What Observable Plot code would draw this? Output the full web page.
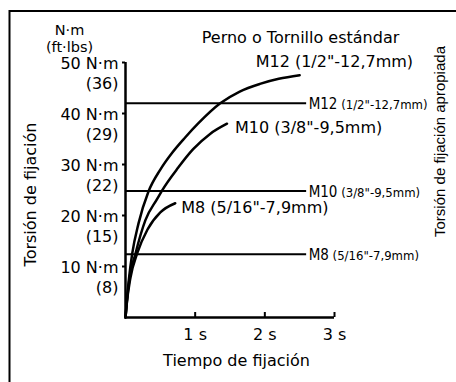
<!DOCTYPE html>
<html><head><meta charset="utf-8">
<script src="https://cdn.jsdelivr.net/npm/d3@7"></script>
<script src="https://cdn.jsdelivr.net/npm/@observablehq/plot@0.6"></script>
<style>
html,body{margin:0;padding:0;background:#fff;overflow:hidden}
</style></head><body><div id="chart"></div>
<script>
// Series (bolt sizes)
const seriesNames = ["M12", "M10", "M8"];
const seriesSizes = ['(1/2"-12,7mm)', '(3/8"-9,5mm)', '(5/16"-7,9mm)'];

// Tightening curves: time (s) and torque (N·m)
const m12Time   = [0, 0.02, 0.047, 0.096, 0.186, 0.33, 0.5, 0.67, 0.85, 1.04, 1.36, 1.64, 1.93, 2.2, 2.5];
const m12Torque = [0, 3.5, 7.3, 12.5, 18.4, 24.7, 29, 32.3, 35.2, 38, 42, 44.3, 45.8, 46.8, 47.5];
const m10Time   = [0, 0.02, 0.05, 0.143, 0.286, 0.457, 0.52, 0.757, 0.971, 1.214, 1.457];
const m10Torque = [0, 3, 6.9, 12.5, 19.1, 23.3, 24.8, 29.4, 33.0, 36.0, 38];
const m8Time    = [0, 0.02, 0.071, 0.171, 0.314, 0.5, 0.714];
const m8Torque  = [0, 3, 7.8, 12.7, 17.2, 20.6, 22.4];

// Appropriate tightening torque reference lines (N·m)
const refTorque = [42, 24.8, 12.4];
const refEndTime = 2.6;

// Ticks
const yTicks = [10, 20, 30, 40, 50];
const yTicksFtLbs = [8, 15, 22, 29, 36];
const xTicks = [1, 2, 3];

// Texts
const titleText = "Perno o Tornillo estándar";
const unitText = "N·m\n(ft·lbs)";
const yTitle = "Torsión de fijación";
const yTitleRight = "Torsión de fijación apropiada";
const xTitle = "Tiempo de fijación";

const curveTimes = [m12Time, m10Time, m8Time];
const curveTorques = [m12Torque, m10Torque, m8Torque];
const curves = seriesNames.flatMap((name, s) =>
  curveTimes[s].map((t, i) => ({series: name, t, v: curveTorques[s][i], label: name + " " + seriesSizes[s]})));
const refLines = seriesNames.map((name, i) => ({series: name, v: refTorque[i], t: refEndTime}));

const font = "'DejaVu Sans', 'Liberation Sans', sans-serif";
const arial = "'Liberation Sans', Arial, sans-serif";
const narrow = "'Liberation Sans Narrow', 'Arial Narrow', 'DejaVu Sans Condensed', sans-serif";

const curveLabel = (name, dx, dy) => Plot.text(curves, Plot.selectLast({
  filter: d => d.series === name, x: "t", y: "v", text: "label",
  textAnchor: "start", dx, dy, fontSize: 16
}));

const chart = Plot.plot({
  width: 456, height: 382,
  marginLeft: 125, marginRight: 122, marginTop: 62, marginBottom: 65,
  style: {fontFamily: font, fontSize: "16px", color: "#000", background: "#fff"},
  x: {domain: [0, 3]},
  y: {domain: [0, 50]},
  marks: [
    Plot.frame({insetLeft: -116, insetTop: -51.5, insetRight: -300, insetBottom: -300, strokeWidth: 2, stroke: "#000"}),
    Plot.ruleY(refLines, {y: "v", x1: 0, x2: "t", strokeWidth: 2, stroke: "#000"}),
    Plot.line(curves, {x: "t", y: "v", z: "series", curve: "monotone-x", strokeWidth: 2.5, stroke: "#000"}),
    Plot.ruleX([0], {y1: 0, y2: 50, strokeWidth: 2.5, stroke: "#000"}),
    Plot.ruleY([0], {x1: 0, x2: 3, strokeWidth: 2.5, stroke: "#000"}),
    Plot.axisY({ticks: yTicks, tickSize: 3, tickFormat: () => "", label: null, strokeWidth: 2}),
    Plot.text(yTicks, {x: 0, y: d => d, text: (d, i) => `${d} N·m\n(${yTicksFtLbs[i]})`,
      textAnchor: "end", dx: -7, dy: 10, lineHeight: 1.25, fontSize: 16}),
    Plot.axisX({ticks: xTicks, tickSize: -5, tickFormat: () => "", label: null, strokeWidth: 2}),
    Plot.axisX({ticks: xTicks, tickSize: 0, tickPadding: 11, tickFormat: d => `${d} s`, label: null, fontSize: 16}),
    curveLabel("M12", -44, -13),
    curveLabel("M10", 8, 4),
    curveLabel("M8", 6, 5),
    Plot.text(refLines, {x: "t", y: "v", text: "series", textAnchor: "start", dx: 2, dy: 1,
      fontSize: 15, fontFamily: narrow}),
    Plot.text([unitText], {frameAnchor: "top-left", textAnchor: "middle", dx: -56, dy: -39, lineHeight: 1.15, fontSize: 14.5}),
    Plot.text([titleText], {frameAnchor: "top", textAnchor: "middle", dx: 70.5, dy: -31, fontSize: 16}),
    Plot.text([yTitle], {frameAnchor: "left", textAnchor: "middle", rotate: -90, dx: -95, dy: 4.5, fontSize: 16}),
    Plot.text([yTitleRight], {frameAnchor: "right", textAnchor: "middle", rotate: -90, dx: 106, dy: -48.5, fontSize: 15, fontFamily: arial}),
    Plot.text([xTitle], {frameAnchor: "bottom", textAnchor: "middle", dx: 6.5, dy: 48, fontSize: 16})
  ]
});

// add the smaller size annotation after each reference-line label
d3.select(chart).selectAll("text")
  .filter(function () { return seriesNames.includes(this.textContent); })
  .each(function () {
    const i = seriesNames.indexOf(this.textContent);
    d3.select(this).append("tspan").attr("font-size", 13).text(" " + seriesSizes[i]);
  });

document.getElementById("chart").appendChild(chart);
</script>
</body></html>
